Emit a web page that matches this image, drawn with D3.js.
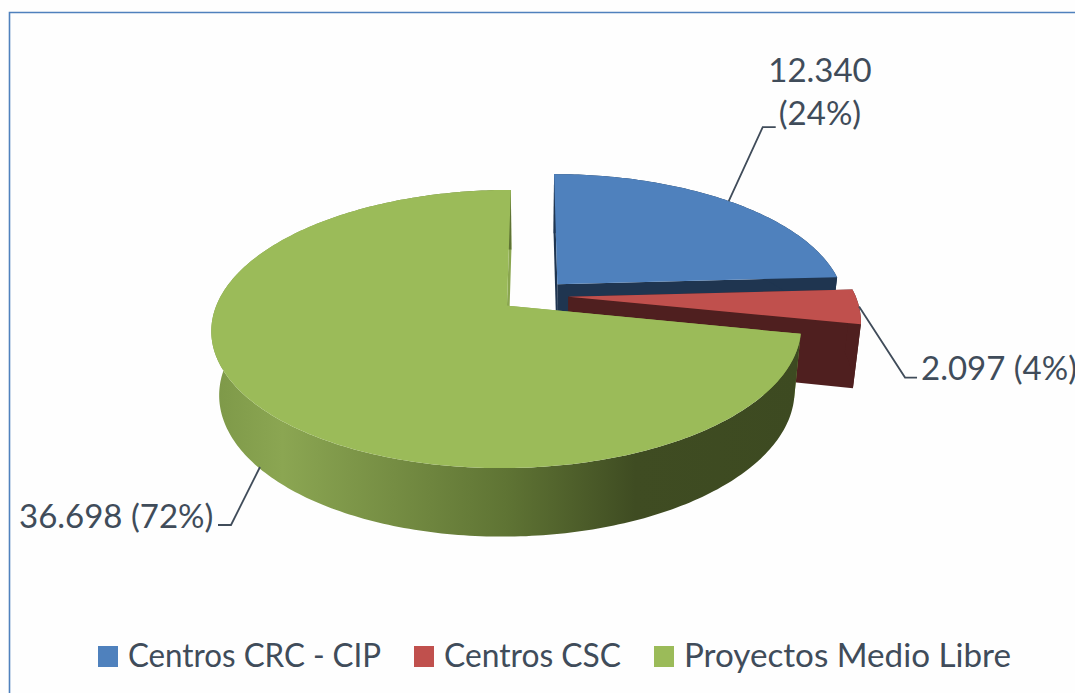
<!DOCTYPE html>
<html>
<head>
<meta charset="utf-8">
<script src="https://cdn.jsdelivr.net/npm/d3@7"></script>
<style>
  html, body { margin: 0; padding: 0; background: #fefefe; }
  svg { display: block; }
  text { font-family: Lato, "Open Sans", sans-serif; fill: #404c5a; }
</style>
</head>
<body>
<div id="chart"></div>
<script>
const categories = ["Centros CRC - CIP", "Centros CSC", "Proyectos Medio Libre"];
const values = [12340, 2097, 36698];
const topColors = ["#4f81bd", "#c0504d", "#9bbb59"];
const sideColors = ["#1f3550", "#4f1f1f", "#3d4a21"];

const width = 1075,
    height = 693;

const svg = d3.select("#chart")
    .append("svg")
    .attr("width", width)
    .attr("height", height)
    .attr("viewBox", [0, 0, width, height]);

// chart frame, only top and left edges show in the picture
svg.append("path")
    .attr("d", "M9.5,693V12.5H1075")
    .attr("fill", "none")
    .attr("stroke", "#4f81bd")
    .attr("stroke-width", 1.6);

// pie seen in perspective: top disc and a slightly narrower lower disc
const explode = 0.12,
    tilt = 0.166;
const topDisc = { cx: 534, cy: 295.5, rx: 287, ry: 131.8 };
const lowDisc = { cx: 534, cy: 358.5, rx: 280, ry: 136 };

function project(disc, u, v) {
    const s = 1 / (1 - tilt * v);
    return [disc.cx + disc.rx * u * s, disc.cy + disc.ry * v * s];
}

const slices = d3.pie().sort(null)(values);
const pctFormat = d3.format(".0%");
const numFormat = d3.formatLocale({ decimal: ",", thousands: ".", grouping: [3], currency: ["", ""] }).format(",d");
const total = d3.sum(values);

function midAngle(s) { return (s.startAngle + s.endAngle) / 2; }

// point on a slice rim (r = 1) or at its apex (r = 0), in disc units
function slicePoint(s, angle, r) {
    const m = midAngle(s);
    return [explode * Math.sin(m) + r * Math.sin(angle), -explode * Math.cos(m) - r * Math.cos(angle)];
}

function rim(s, a0, a1) {
    const n = Math.max(2, Math.ceil((a1 - a0) * 60));
    return d3.range(n + 1).map(i => slicePoint(s, a0 + (a1 - a0) * i / n, 1));
}

const line = d3.line();
const onDisc = (disc, pts) => pts.map(p => project(disc, p[0], p[1]));

const defs = svg.append("defs");
const grad = defs.append("linearGradient")
    .attr("id", "greenSide")
    .attr("gradientUnits", "userSpaceOnUse")
    .attr("x1", 212).attr("x2", 800).attr("y1", 0).attr("y2", 0);
grad.append("stop").attr("offset", "0").attr("stop-color", "#7d9848");
grad.append("stop").attr("offset", "0.12").attr("stop-color", "#8ba652");
grad.append("stop").attr("offset", "0.5").attr("stop-color", "#5f7434");
grad.append("stop").attr("offset", "0.72").attr("stop-color", "#3f4c22");
grad.append("stop").attr("offset", "1").attr("stop-color", "#3d4a21");

slices.forEach((s, i) => {
    const g = svg.append("g");
    const side = i === 2 ? "url(#greenSide)" : sideColors[i];
    const apex = slicePoint(s, 0, 0);
    const wall = a => {
        const p = slicePoint(s, a, 1);
        return onDisc(topDisc, [apex, p]).concat(onDisc(lowDisc, [p, apex]));
    };

    // radial walls
    g.append("path").attr("d", line(wall(s.startAngle)) + "Z").attr("fill", i === 2 ? "#8aa64f" : side);
    g.append("path").attr("d", line(wall(s.endAngle)) + "Z").attr("fill", i === 2 ? "#8aa64f" : side);

    // outer wall
    const arc = rim(s, s.startAngle, s.endAngle);
    g.append("path")
        .attr("d", line(onDisc(topDisc, arc).concat(onDisc(lowDisc, arc.slice().reverse()))) + "Z")
        .attr("fill", side);

    // top face
    g.append("path")
        .attr("d", line(onDisc(topDisc, [apex].concat(arc))) + "Z")
        .attr("fill", topColors[i]);
});

// leader lines start on the slice rim at the middle of the slice
const leaderElbows = [[[34, -74], [47, -74]], [[46, 71], [58, 71]], [[-29, 58], [-42, 58]]];
const labelSpots = [
    { x: 820, y: 82, anchor: "middle" },
    { x: 921, y: 380, anchor: "start" },
    { x: 19, y: 528, anchor: "start" }
];

slices.forEach((s, i) => {
    const p = slicePoint(s, midAngle(s), 1);
    const start = project(topDisc, p[0], p[1]);
    if (i === 2) {
        start[0] = 260;
        start[1] = 467;
    }
    svg.append("path")
        .attr("d", line([start].concat(leaderElbows[i].map(e => [start[0] + e[0], start[1] + e[1]]))))
        .attr("fill", "none")
        .attr("stroke", "#404c5a")
        .attr("stroke-width", 1.8);

    const num = numFormat(values[i]),
        pct = "(" + pctFormat(values[i] / total) + ")";
    const t = svg.append("text")
        .attr("x", labelSpots[i].x)
        .attr("y", labelSpots[i].y)
        .attr("text-anchor", labelSpots[i].anchor)
        .attr("font-size", 33);
    if (i === 0) {
        t.append("tspan").attr("x", labelSpots[i].x).text(num);
        t.append("tspan").attr("x", labelSpots[i].x).attr("dy", 43).text(pct);
    } else {
        t.text(num + " " + pct);
    }
});

// legend
const legendX = d3.scaleOrdinal().domain(categories).range([98, 414, 654]);
const legendWidths = [253, 177, 327];
const legend = svg.append("g")
    .selectAll("g")
    .data(categories)
    .join("g")
    .attr("transform", d => `translate(${legendX(d)},0)`);

legend.append("rect")
    .attr("y", 646)
    .attr("width", 20)
    .attr("height", 21)
    .attr("fill", (d, i) => topColors[i]);

legend.append("text")
    .attr("x", 30)
    .attr("y", 667)
    .attr("font-size", 32)
    .attr("textLength", (d, i) => legendWidths[i])
    .attr("lengthAdjust", "spacingAndGlyphs")
    .text(d => d);
</script>
</body>
</html>
